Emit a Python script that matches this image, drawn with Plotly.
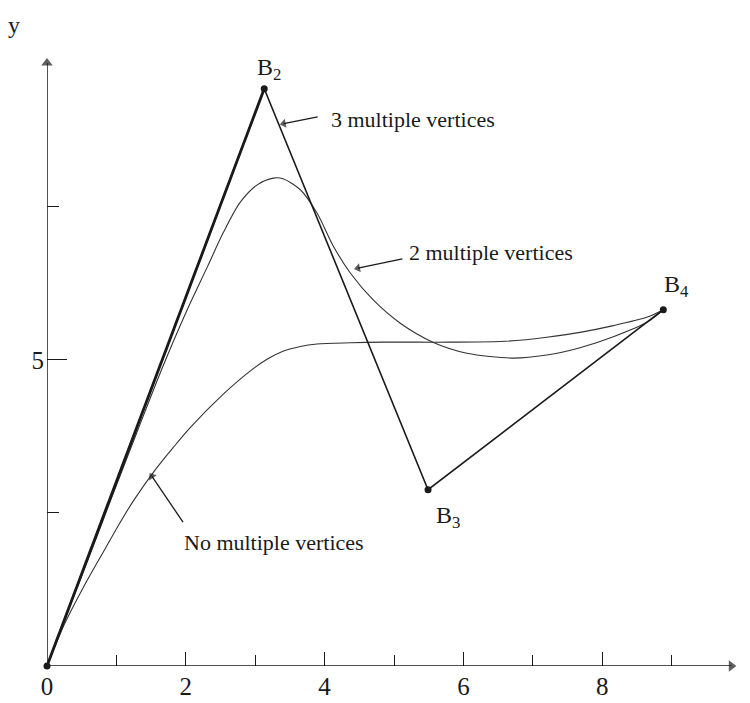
import plotly.graph_objects as go

# Control polygon vertices
vert_names = ["B1", "B2", "B3", "B4"]
poly_x = [0.0, 3.13, 5.49, 8.88]
poly_y = [0.0, 9.43, 2.88, 5.82]

# Curve with no multiple vertices
none_x = [0.0, 0.25, 0.55, 0.84, 1.02, 1.24, 1.53, 1.82, 2.06, 2.54, 2.93, 3.17, 3.40, 3.65,
          3.89, 4.37, 4.84, 5.33, 5.81, 6.53, 6.90, 7.20, 7.68, 8.16, 8.65, 8.88]
none_y = [0.0, 0.68, 1.34, 1.92, 2.28, 2.69, 3.16, 3.57, 3.89, 4.44, 4.82, 5.01, 5.14, 5.22,
          5.26, 5.28, 5.29, 5.29, 5.29, 5.30, 5.33, 5.37, 5.45, 5.56, 5.70, 5.82]

# Curve with 2 multiple vertices at B2
two_x = [0.0, 0.31, 0.645, 0.975, 1.31, 1.65, 2.02, 2.31, 2.54, 2.78, 3.03, 3.26, 3.40, 3.65,
         3.89, 4.13, 4.37, 4.70, 5.09, 5.56, 6.05, 6.71, 7.20, 7.68, 8.16, 8.65, 8.88]
two_y = [0.0, 0.92, 1.90, 2.88, 3.86, 4.84, 5.82, 6.52, 7.08, 7.57, 7.86, 7.97, 7.96, 7.78,
         7.40, 6.85, 6.42, 5.98, 5.60, 5.29, 5.11, 5.03, 5.08, 5.20, 5.38, 5.62, 5.82]

# Curve with 3 multiple vertices (coincides with B1-B2 edge)
three_x = [0.0, 3.13]
three_y = [0.0, 9.43]

# Leader arrows: (head x, head y, tail x, tail y) and captions
leader_head_x = [3.41, 4.48, 1.51]
leader_head_y = [8.86, 6.50, 3.10]
leader_tail_x = [3.90, 5.12, 1.96]
leader_tail_y = [8.97, 6.65, 2.35]
caption_x = [4.06, 5.18, 1.94]
caption_y = [8.92, 6.75, 2.01]
caption_text = ["3 multiple vertices", "2 multiple vertices", "No multiple vertices"]

x_tick_vals = [0, 2, 4, 6, 8]
x_tick_text = ["0", "2", "4", "6", "8"]
x_minor_vals = [1, 3, 5, 7, 9]
y_tick_vals = [5]
y_tick_text = ["5"]
y_minor_vals = [2.5, 7.5]
x_axis_end = 9.86
y_axis_end = 9.85

INK = "#1a1a1a"
SERIF = "Liberation Serif, Times New Roman, serif"

fig = go.Figure()
# axes with arrowheads
fig.add_trace(go.Scatter(x=[0, 0], y=[0, y_axis_end], mode="lines+markers",
                         line=dict(color=INK, width=1.5),
                         marker=dict(symbol="triangle-up", size=[0, 10], angleref="previous",
                                     color=INK, line=dict(width=0)),
                         cliponaxis=False))
fig.add_trace(go.Scatter(x=[0, x_axis_end], y=[0, 0], mode="lines+markers",
                         line=dict(color=INK, width=1.5),
                         marker=dict(symbol="triangle-up", size=[0, 10], angleref="previous",
                                     color=INK, line=dict(width=0)),
                         cliponaxis=False))
fig.add_trace(go.Scatter(x=none_x, y=none_y, mode="lines",
                         line=dict(color="#333333", width=1.1, shape="spline", smoothing=0.8)))
fig.add_trace(go.Scatter(x=two_x, y=two_y, mode="lines",
                         line=dict(color="#333333", width=1.1, shape="spline", smoothing=0.8)))
fig.add_trace(go.Scatter(x=three_x, y=three_y, mode="lines",
                         line=dict(color=INK, width=2.8)))
fig.add_trace(go.Scatter(x=poly_x, y=poly_y, mode="lines+markers",
                         line=dict(color=INK, width=1.6),
                         marker=dict(color=INK, size=7), cliponaxis=False))
for hx, hy, tx, ty in zip(leader_head_x, leader_head_y, leader_tail_x, leader_tail_y):
    fig.add_trace(go.Scatter(x=[tx, hx], y=[ty, hy], mode="lines+markers",
                             line=dict(color=INK, width=1.3),
                             marker=dict(symbol="triangle-up", size=[0, 8], angleref="previous",
                                         color=INK, line=dict(width=0)),
                             cliponaxis=False))

ann = []
# axis titles (paper coords)
ann.append(dict(x=-0.047, y=0.979, xref="paper", yref="paper", text="y", showarrow=False,
                xanchor="center", yanchor="middle",
                font=dict(family=SERIF, size=24, color=INK)))
ann.append(dict(x=0.994, y=-0.044, xref="paper", yref="paper", text="x", showarrow=False,
                xanchor="left", yanchor="middle",
                font=dict(family=SERIF, size=24, color=INK)))
# vertex labels
ann.append(dict(x=poly_x[1], y=poly_y[1], xref="x", yref="y", text="B<sub>2</sub>",
                showarrow=False, yshift=20, xshift=5, font=dict(family=SERIF, size=24, color=INK)))
ann.append(dict(x=poly_x[2], y=poly_y[2], xref="x", yref="y", text="B<sub>3</sub>",
                showarrow=False, yshift=-27, xshift=20, font=dict(family=SERIF, size=24, color=INK)))
ann.append(dict(x=poly_x[3], y=poly_y[3], xref="x", yref="y", text="B<sub>4</sub>",
                showarrow=False, yshift=24, xshift=13, font=dict(family=SERIF, size=24, color=INK)))
# captions
for tx, ty, t in zip(caption_x, caption_y, caption_text):
    ann.append(dict(x=tx, y=ty, xref="x", yref="y", text=t, showarrow=False, xanchor="left",
                    yanchor="middle", font=dict(family=SERIF, size=22, color=INK)))

# page body has an 8px margin, so the figure is sized/offset to compensate
fig.update_layout(
    width=742, height=695, showlegend=False,
    paper_bgcolor="white", plot_bgcolor="white",
    margin=dict(l=39, r=2, t=3, b=37, autoexpand=False),
    annotations=ann,
    xaxis=dict(range=[0, 10.1], showgrid=False, zeroline=False, showline=False,
               automargin=False,
               ticks="inside", ticklen=14, tickwidth=1.3, tickcolor=INK,
               tickvals=x_tick_vals, ticktext=x_tick_text, ticklabelstandoff=3,
               tickfont=dict(family=SERIF, size=25, color=INK),
               minor=dict(tickvals=x_minor_vals, ticks="inside", ticklen=11, tickwidth=1.2,
                          tickcolor=INK, showgrid=False)),
    yaxis=dict(range=[0, 10.7], showgrid=False, zeroline=False, showline=False,
               automargin=False,
               ticks="inside", ticklen=20, tickwidth=1.3, tickcolor=INK,
               tickvals=y_tick_vals, ticktext=y_tick_text, ticklabelstandoff=2,
               tickfont=dict(family=SERIF, size=25, color=INK),
               minor=dict(tickvals=y_minor_vals, ticks="inside", ticklen=12, tickwidth=1.2,
                          tickcolor=INK, showgrid=False)),
)

fig.write_html("out.html")
